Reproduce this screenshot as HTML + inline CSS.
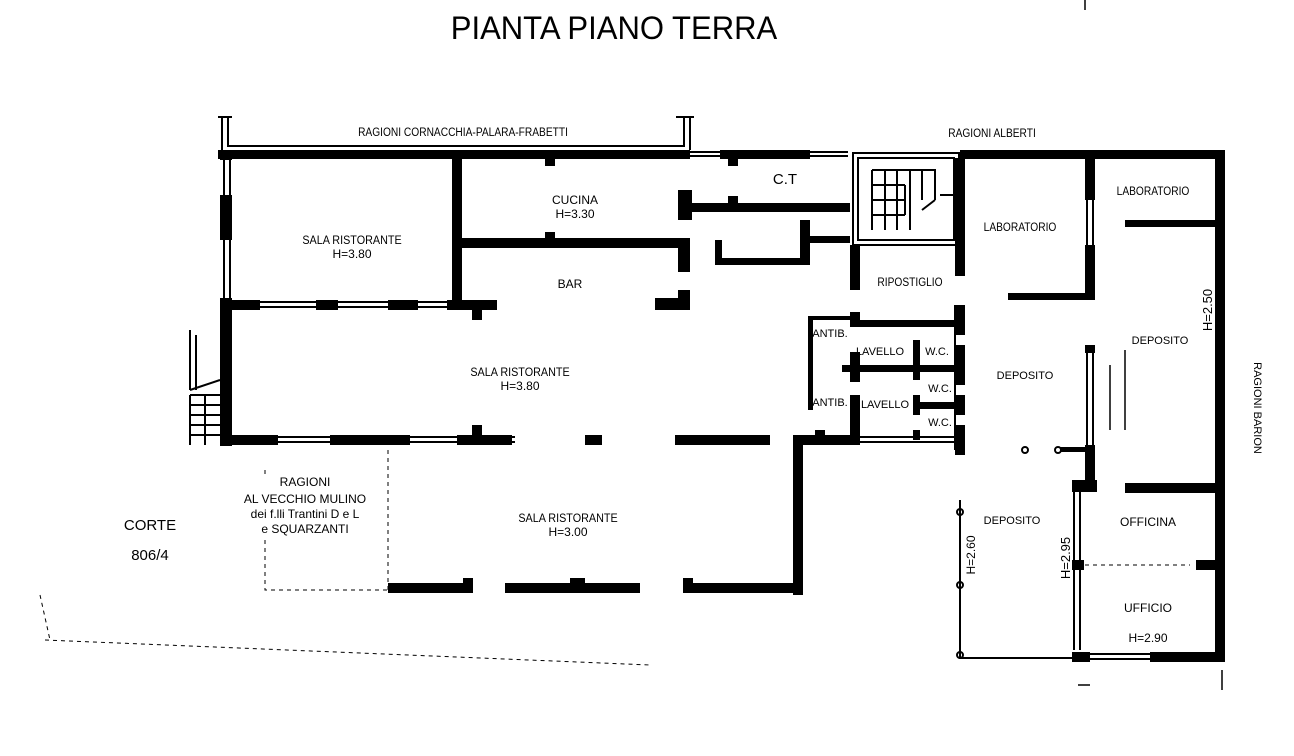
<!DOCTYPE html>
<html><head><meta charset="utf-8"><style>
html,body{margin:0;padding:0;background:#fff;}
svg{display:block;}
text{font-family:"Liberation Sans",sans-serif;fill:#000;}
</style></head><body>
<svg width="1294" height="756" viewBox="0 0 1294 756" xmlns="http://www.w3.org/2000/svg">
<rect width="1294" height="756" fill="#fff"/>
<text x="614" y="39" font-size="32" text-anchor="middle" transform="translate(614 0) scale(0.97 1) translate(-614 0)">PIANTA PIANO TERRA</text>

<g fill="none" stroke="#000" stroke-width="2">
<path d="M218 117 H232 M222 117 V150 M228 117 V146 H684 V117 M690 117 V150 M676 117 H694"/>
<rect x="853" y="153" width="106" height="92"/>
<rect x="858" y="158" width="96" height="82"/>
<path d="M872 170 H935 V200 M872 170 V230 M872 185 H905 M872 200 H905 M872 215 H905 M885 170 V230 M897 170 V230 M910 170 V230 M922 170 V200 M905 185 V215 M935 200 L922 210 M940 195 H955"/>
<path d="M690 152 H720 M690 156 H720 M810 152 H848 M810 156 H848 M224 160 V300 M230 160 V300 M240 302 H450 M240 307 H450 M240 437 H515 M240 442 H515 M1087 200 V298 M1093 200 V298 M1087 350 V445 M1093 350 V445 M1074 490 V650 M1080 490 V650 M1090 654 H1150 M1090 659 H1150 M860 437 H960 M860 442 H960 M955 305 V450"/>
<path d="M190 330 V390 M196 335 V390 M190 390 L220 380 M190 395 H220 M190 395 V445 M190 405 H220 M190 415 H220 M190 425 H220 M190 435 H220 M205 395 V445"/>
<path d="M960 500 V658 H1072"/>
<path d="M1110 365 V430 M1125 350 V430" stroke-width="1.5"/>
</g>
<g fill="none" stroke="#000" stroke-width="1" stroke-dasharray="4 4">
<path d="M265 470 V478 M265 540 V590 H388 M388 450 V590 M1085 565 H1190 M45 640 L650 665 M40 595 L50 640"/>
</g>
<circle cx="960" cy="450" r="3" fill="none" stroke="#000" stroke-width="2"/>
<circle cx="1025" cy="450" r="3" fill="none" stroke="#000" stroke-width="2"/>
<circle cx="1058" cy="450" r="3" fill="none" stroke="#000" stroke-width="2"/>
<circle cx="960" cy="512" r="3" fill="none" stroke="#000" stroke-width="2"/>
<circle cx="960" cy="585" r="3" fill="none" stroke="#000" stroke-width="2"/>
<circle cx="960" cy="655" r="3" fill="none" stroke="#000" stroke-width="2"/>

<g fill="#000">
<rect x="218" y="150" width="472" height="9"/>
<rect x="720" y="150" width="90" height="9"/>
<rect x="960" y="150" width="265" height="9"/>
<rect x="1215" y="150" width="10" height="512"/>
<rect x="1072" y="652" width="18" height="10"/>
<rect x="1150" y="652" width="75" height="10"/>
<rect x="220" y="150" width="12" height="10"/>
<rect x="220" y="195" width="12" height="45"/>
<rect x="220" y="298" width="12" height="148"/>
<rect x="220" y="300" width="40" height="10"/>
<rect x="316" y="300" width="22" height="10"/>
<rect x="388" y="300" width="30" height="10"/>
<rect x="447" y="300" width="50" height="10"/>
<rect x="472" y="308" width="10" height="12"/>
<rect x="452" y="158" width="10" height="150"/>
<rect x="545" y="158" width="10" height="8"/>
<rect x="462" y="238" width="228" height="10"/>
<rect x="545" y="232" width="10" height="8"/>
<rect x="678" y="238" width="12" height="34"/>
<rect x="655" y="298" width="35" height="12"/>
<rect x="678" y="290" width="12" height="12"/>
<rect x="678" y="190" width="14" height="30"/>
<rect x="690" y="203" width="160" height="9"/>
<rect x="728" y="196" width="10" height="10"/>
<rect x="728" y="156" width="10" height="10"/>
<rect x="715" y="240" width="7" height="25"/>
<rect x="715" y="258" width="90" height="7"/>
<rect x="800" y="220" width="10" height="45"/>
<rect x="810" y="236" width="40" height="7"/>
<rect x="850" y="245" width="10" height="45"/>
<rect x="955" y="158" width="10" height="118"/>
<rect x="1085" y="158" width="10" height="42"/>
<rect x="1085" y="245" width="10" height="55"/>
<rect x="1008" y="293" width="87" height="7"/>
<rect x="1125" y="220" width="90" height="7"/>
<rect x="1085" y="345" width="10" height="8"/>
<rect x="1085" y="445" width="10" height="40"/>
<rect x="1072" y="480" width="25" height="12"/>
<rect x="1125" y="483" width="90" height="10"/>
<rect x="1072" y="560" width="12" height="10"/>
<rect x="1196" y="560" width="20" height="10"/>
<rect x="808" y="316" width="5" height="94"/>
<rect x="808" y="316" width="45" height="4"/>
<rect x="850" y="312" width="10" height="15"/>
<rect x="850" y="320" width="110" height="7"/>
<rect x="955" y="305" width="10" height="30"/>
<rect x="955" y="345" width="10" height="40"/>
<rect x="955" y="395" width="10" height="20"/>
<rect x="955" y="425" width="10" height="30"/>
<rect x="850" y="352" width="10" height="30"/>
<rect x="842" y="365" width="118" height="7"/>
<rect x="913" y="340" width="7" height="40"/>
<rect x="913" y="395" width="7" height="20"/>
<rect x="915" y="402" width="45" height="7"/>
<rect x="850" y="395" width="10" height="50"/>
<rect x="913" y="430" width="7" height="10"/>
<rect x="220" y="435" width="58" height="10"/>
<rect x="330" y="435" width="80" height="10"/>
<rect x="457" y="435" width="55" height="10"/>
<rect x="472" y="425" width="10" height="12"/>
<rect x="585" y="435" width="17" height="10"/>
<rect x="675" y="435" width="95" height="10"/>
<rect x="793" y="435" width="67" height="10"/>
<rect x="815" y="430" width="10" height="8"/>
<rect x="960" y="435" width="5" height="20"/>
<rect x="1060" y="447" width="30" height="5"/>
<rect x="793" y="445" width="10" height="150"/>
<rect x="388" y="583" width="75" height="10"/>
<rect x="463" y="578" width="10" height="15"/>
<rect x="505" y="583" width="135" height="10"/>
<rect x="570" y="578" width="15" height="15"/>
<rect x="683" y="583" width="120" height="10"/>
<rect x="683" y="578" width="10" height="15"/>
</g>

<g font-size="12" text-anchor="middle">
<text x="463" y="136" transform="translate(463 0) scale(0.85 1) translate(-463 0)">RAGIONI CORNACCHIA-PALARA-FRABETTI</text>
<text x="992" y="137" transform="translate(992 0) scale(0.85 1) translate(-992 0)">RAGIONI ALBERTI</text>
<text x="575" y="204">CUCINA</text>
<text x="575" y="218">H=3.30</text>
<text x="785" y="184" font-size="15">C.T</text>
<text x="352" y="244" transform="translate(352 0) scale(0.9 1) translate(-352 0)">SALA RISTORANTE</text>
<text x="352" y="258">H=3.80</text>
<text x="570" y="288">BAR</text>
<text x="910" y="286" transform="translate(910 0) scale(0.85 1) translate(-910 0)">RIPOSTIGLIO</text>
<text x="1020" y="231" transform="translate(1020 0) scale(0.85 1) translate(-1020 0)">LABORATORIO</text>
<text x="1153" y="195" transform="translate(1153 0) scale(0.85 1) translate(-1153 0)">LABORATORIO</text>
<text x="520" y="376" transform="translate(520 0) scale(0.9 1) translate(-520 0)">SALA RISTORANTE</text>
<text x="520" y="390">H=3.80</text>
<text x="830" y="337" font-size="11">ANTIB.</text>
<text x="880" y="355" font-size="11">LAVELLO</text>
<text x="937" y="355" font-size="11">W.C.</text>
<text x="940" y="392" font-size="11">W.C.</text>
<text x="830" y="406" font-size="11">ANTIB.</text>
<text x="885" y="408" font-size="11">LAVELLO</text>
<text x="940" y="426" font-size="11">W.C.</text>
<text x="1025" y="379" font-size="11">DEPOSITO</text>
<text x="1160" y="344" font-size="11">DEPOSITO</text>
<text x="1012" y="524" font-size="11">DEPOSITO</text>
<text x="1148" y="526">OFFICINA</text>
<text x="1148" y="612">UFFICIO</text>
<text x="1148" y="642">H=2.90</text>
<text x="568" y="522" transform="translate(568 0) scale(0.9 1) translate(-568 0)">SALA RISTORANTE</text>
<text x="568" y="536">H=3.00</text>
<text x="305" y="486">RAGIONI</text>
<text x="305" y="503">AL VECCHIO MULINO</text>
<text x="305" y="518">dei f.lli Trantini D e L</text>
<text x="305" y="533">e SQUARZANTI</text>
<text x="150" y="530" font-size="15">CORTE</text>
<text x="150" y="560" font-size="15">806/4</text>
</g>
<text x="0" y="0" font-size="13" text-anchor="middle" transform="translate(1212 310) rotate(-90)">H=2.50</text>
<text x="0" y="0" font-size="11" text-anchor="middle" transform="translate(1254 408) rotate(90)">RAGIONI BARION</text>
<text x="0" y="0" font-size="13" text-anchor="middle" transform="translate(1070 558) rotate(-90)">H=2.95</text>
<text x="0" y="0" font-size="12" text-anchor="middle" transform="translate(975 555) rotate(-90)">H=2.60</text>
<path d="M1222 670 V690 M1078 685 H1090 M1085 0 V10" stroke="#000" stroke-width="1.5"/>
</svg>
</body></html>
